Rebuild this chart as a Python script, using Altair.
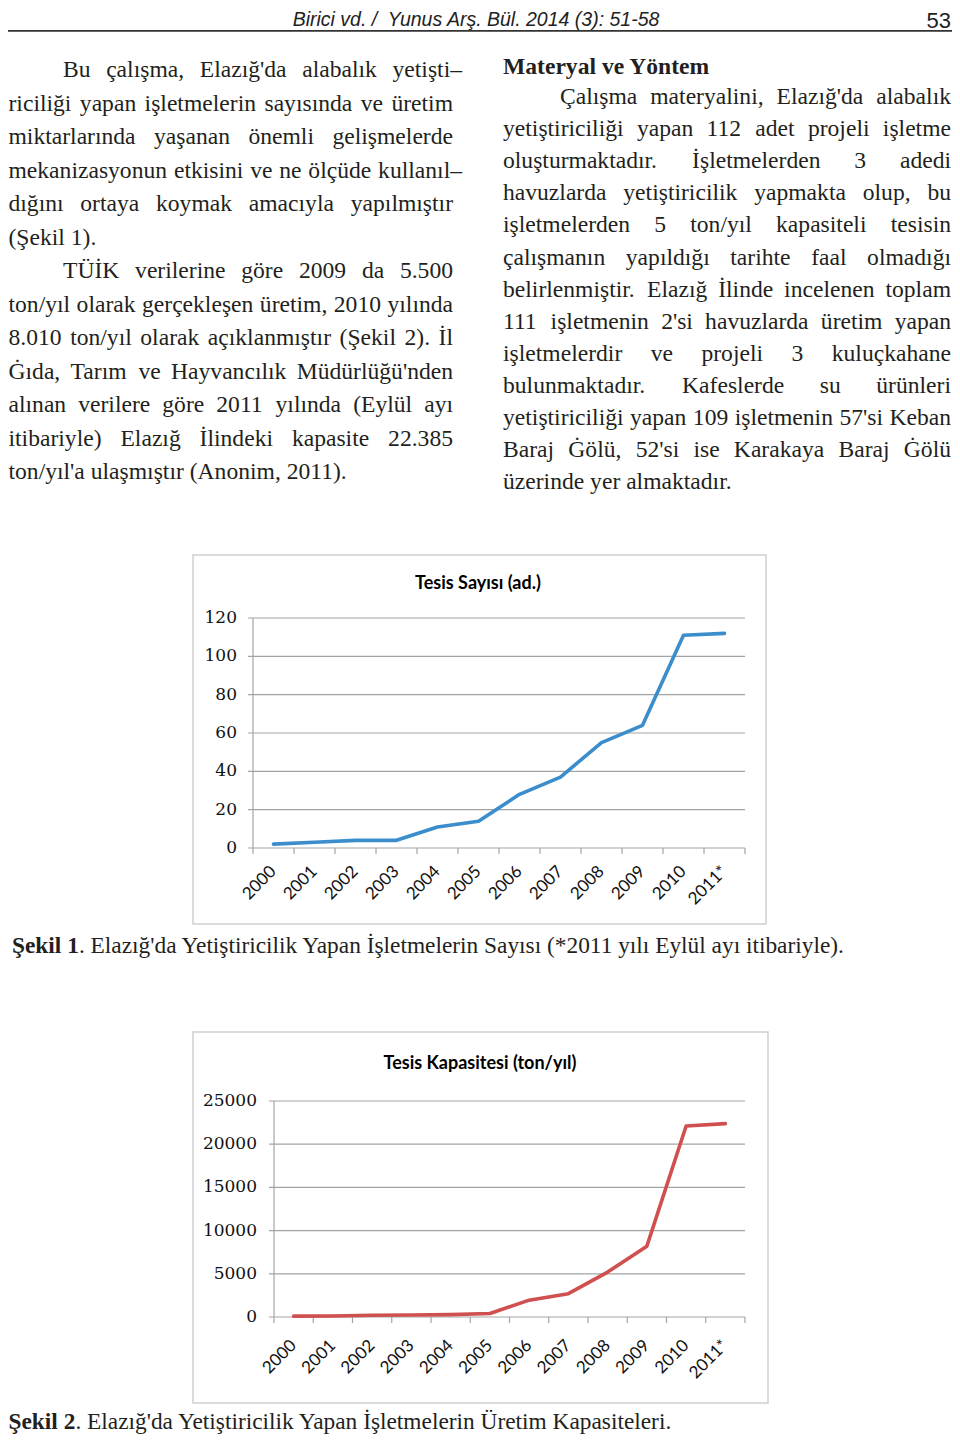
import altair as alt
import pandas as pd

# ---------------- data ----------------
years = ["2000", "2001", "2002", "2003", "2004", "2005", "2006", "2007", "2008", "2009", "2010", "2011*"]
facility_count = [2, 3, 4, 4, 11, 14, 28, 37, 55, 64, 111, 112]
facility_capacity = [100, 120, 200, 230, 270, 400, 1950, 2700, 5200, 8200, 22100, 22385]
count_ticks = [0, 20, 40, 60, 80, 100, 120]
capacity_ticks = [0, 5000, 10000, 15000, 20000, 25000]

header_text = "Birici vd. /\u00a0 Yunus Arş. Bül. 2014 (3): 51-58"
page_number = "53"

left_paragraphs = [
    ["Bu çalışma, Elazığ'da alabalık yetişti–",
     "riciliği yapan işletmelerin sayısında ve üretim",
     "miktarlarında yaşanan önemli gelişmelerde",
     "mekanizasyonun etkisini ve ne ölçüde kullanıl–",
     "dığını ortaya koymak amacıyla yapılmıştır",
     "(Şekil 1)."],
    ["TÜİK verilerine göre 2009 da 5.500",
     "ton/yıl olarak gerçekleşen üretim, 2010 yılında",
     "8.010 ton/yıl olarak açıklanmıştır (Şekil 2). İl",
     "Ġıda, Tarım ve Hayvancılık Müdürlüğü'nden",
     "alınan verilere göre 2011 yılında (Eylül ayı",
     "itibariyle) Elazığ İlindeki kapasite 22.385",
     "ton/yıl'a ulaşmıştır (Anonim, 2011)."],
]
right_heading = "Materyal ve Yöntem"
right_paragraphs = [
    ["Çalışma materyalini, Elazığ'da alabalık",
     "yetiştiriciliği yapan 112 adet projeli işletme",
     "oluşturmaktadır. İşletmelerden 3 adedi",
     "havuzlarda yetiştiricilik yapmakta olup, bu",
     "işletmelerden 5 ton/yıl kapasiteli tesisin",
     "çalışmanın yapıldığı tarihte faal olmadığı",
     "belirlenmiştir. Elazığ İlinde incelenen toplam",
     "111 işletmenin 2'si havuzlarda üretim yapan",
     "işletmelerdir ve projeli 3 kuluçkahane",
     "bulunmaktadır. Kafeslerde su ürünleri",
     "yetiştiriciliği yapan 109 işletmenin 57'si Keban",
     "Baraj Ġölü, 52'si ise Karakaya Baraj Ġölü",
     "üzerinde yer almaktadır."],
]
chart1_title = "Tesis Sayısı (ad.)"
chart2_title = "Tesis Kapasitesi (ton/yıl)"
caption1_label = "Şekil 1"
caption1_text = ". Elazığ'da Yetiştiricilik Yapan İşletmelerin Sayısı (*2011 yılı Eylül ayı itibariyle)."
caption2_label = "Şekil 2"
caption2_text = ". Elazığ'da Yetiştiricilik Yapan İşletmelerin Üretim Kapasiteleri."

# ---------------- layout helpers ----------------
OFF = 8  # page margin -> view origin
SERIF = "Liberation Serif"
TEXT_COLOR = "#231f20"

_reg = {' ': 250, '!': 333, '(': 333, ')': 333, '*': 500, ',': 250, '-': 333, '.': 250, '/': 278,
        ':': 278, "'": 180, '–': 500, '\u00a0': 250}
for d in "0123456789":
    _reg[d] = 500
_reg.update(dict(zip("ABCDEFGHIJKLMNOPQRSTUVWXYZ",
                     [722, 667, 667, 722, 611, 556, 722, 722, 333, 389, 722, 611, 889, 722, 722, 556, 722, 667, 556,
                      611, 722, 722, 944, 722, 722, 611])))
_reg.update(dict(zip("abcdefghijklmnopqrstuvwxyz",
                     [444, 500, 444, 500, 444, 333, 500, 500, 278, 278, 500, 278, 778, 500, 500, 500, 500, 333, 389,
                      278, 500, 500, 722, 500, 500, 444])))
_reg.update({'ç': 444, 'ğ': 500, 'ı': 278, 'ö': 500, 'ş': 389, 'ü': 500, 'Ç': 667, 'Ğ': 722, 'İ': 333,
             'Ö': 722, 'Ş': 556, 'Ü': 722, 'Ġ': 722})
_bold = {' ': 250, '1': 500, '2': 500, 'Ş': 556, 'e': 444, 'k': 556, 'i': 278, 'l': 278}


def em_reg(s):
    return sum(_reg.get(c, 500) for c in s) / 1000.0


def em_bold(s):
    return sum(_bold.get(c, 520) for c in s) / 1000.0


BODY_FS = 23.6


def layout(paras, x0, x1, indent, y0, lh, hang_x1):
    lrows, rrows = [], []
    i = 0
    for para in paras:
        for k, line in enumerate(para):
            y = y0 + i * lh - OFF
            lx = (indent if k == 0 else x0)
            rx = hang_x1 if line.endswith("–") else x1
            words = line.split(" ")
            if k == len(para) - 1 or len(words) == 1:
                lrows.append({"t": line, "x": lx - OFF, "y": y})
            else:
                ws = [em_reg(w) * BODY_FS for w in words]
                gap = (rx - lx - sum(ws)) / (len(words) - 1)
                cx = lx
                for w, wd in zip(words[:-1], ws[:-1]):
                    lrows.append({"t": w, "x": cx - OFF, "y": y})
                    cx += wd + gap
                rrows.append({"t": words[-1], "x": rx - OFF, "y": y})
            i += 1
    return lrows, rrows


l1, r1 = layout(left_paragraphs, 8.5, 453, 63, 77, 33.5, 462)
l2, r2 = layout(right_paragraphs, 503, 951, 560, 104, 32.1, 958)
left_words = pd.DataFrame(l1 + l2)
right_words = pd.DataFrame(r1 + r2)


def text_layer(df, align="left", font=SERIF, size=BODY_FS, weight="normal", style="normal", color=TEXT_COLOR,
               angle=0, baseline="alphabetic"):
    return alt.Chart(df).mark_text(align=align, baseline=baseline, font=font, fontSize=size, fontWeight=weight,
                                   fontStyle=style, color=color, angle=angle).encode(
        x=alt.X("x:Q", scale=None, axis=None),
        y=alt.Y("y:Q", scale=None, axis=None),
        text="t:N")


layers = []
layers.append(text_layer(left_words, "left"))
layers.append(text_layer(right_words, "right"))
layers.append(text_layer(pd.DataFrame([{"t": right_heading, "x": 503 - OFF, "y": 73.5 - OFF}]),
                         "left", weight="bold"))

# header
layers.append(text_layer(pd.DataFrame([{"t": header_text, "x": 476 - OFF, "y": 26 - OFF}]), "center",
                         font="Liberation Sans", size=19.5, style="italic", color="#222222"))
layers.append(text_layer(pd.DataFrame([{"t": page_number, "x": 951 - OFF, "y": 28 - OFF}]), "right",
                         font="Liberation Sans", size=22, color="#222222"))
one = pd.DataFrame({"a": [0]})
layers.append(alt.Chart(one).mark_rect(color="#333333").encode(
    x=alt.value(8 - OFF), x2=alt.value(952 - OFF), y=alt.value(30 - OFF), y2=alt.value(31.8 - OFF)))

# captions
for lab, txt, x0, x1, yb in [(caption1_label, caption1_text, 12, 852, 953),
                             (caption2_label, caption2_text, 8.5, 678, 1429)]:
    fs = (x1 - x0) / (em_bold(lab) + em_reg(txt))
    layers.append(text_layer(pd.DataFrame([{"t": lab, "x": x0 - OFF, "y": yb - OFF}]), "left", size=fs,
                             weight="bold"))
    layers.append(text_layer(pd.DataFrame([{"t": txt, "x": x0 + em_bold(lab) * fs - OFF, "y": yb - OFF}]),
                             "left", size=fs))


# ---------------- line panels ----------------
def panel(values, ticks, color, frame, axis_x, right_x, y_zero, y_top, title, title_xy, ylab_right, xlab_y):
    fx0, fy0, fx1, fy1 = frame
    xs = alt.Scale(type="point", domain=years, range=[axis_x - OFF, right_x - OFF], padding=0.5)
    ys = alt.Scale(domain=[ticks[0], ticks[-1]], range=[y_zero - OFF, y_top - OFF], nice=False, zero=False)
    step = (right_x - axis_x) / len(years)
    df = pd.DataFrame({"year": years, "v": values})
    tk = pd.DataFrame({"v": ticks})
    grid = "#a3a3a3"
    parts = []
    parts.append(alt.Chart(one).mark_rect(fill="white", stroke="#cfcfcf", strokeWidth=1.5).encode(
        x=alt.value(fx0 - OFF), x2=alt.value(fx1 - OFF), y=alt.value(fy0 - OFF), y2=alt.value(fy1 - OFF)))
    parts.append(alt.Chart(tk).mark_rule(color=grid, strokeWidth=1.2).encode(
        y=alt.Y("v:Q", scale=ys, axis=None), x=alt.value(axis_x - 5 - OFF), x2=alt.value(right_x - OFF)))
    parts.append(alt.Chart(one).mark_rule(color=grid, strokeWidth=1.2).encode(
        x=alt.value(axis_x - OFF), y=alt.value(y_top - OFF), y2=alt.value(y_zero - OFF)))
    parts.append(alt.Chart(df).mark_rule(color=grid, strokeWidth=1.2, xOffset=-step / 2).encode(
        x=alt.X("year:N", scale=xs, axis=None, sort=years), y=alt.value(y_zero - OFF),
        y2=alt.value(y_zero + 6 - OFF)))
    parts.append(alt.Chart(df.tail(1)).mark_rule(color=grid, strokeWidth=1.2, xOffset=step / 2).encode(
        x=alt.X("year:N", scale=xs, axis=None, sort=years), y=alt.value(y_zero - OFF),
        y2=alt.value(y_zero + 6 - OFF)))
    parts.append(alt.Chart(tk).mark_text(align="right", baseline="middle", font="DejaVu Serif", fontSize=17,
                                         color="#111111").encode(
        y=alt.Y("v:Q", scale=ys, axis=None), x=alt.value(ylab_right - OFF), text="v:Q"))
    parts.append(alt.Chart(df).mark_text(align="right", baseline="middle", font="Lato", fontSize=17,
                                         angle=315, color="#111111").encode(
        x=alt.X("year:N", scale=xs, axis=None, sort=years), y=alt.value(xlab_y - OFF), text="year:N"))
    parts.append(alt.Chart(df).mark_line(color=color, strokeWidth=3.6, strokeCap="round",
                                         strokeJoin="round").encode(
        x=alt.X("year:N", scale=xs, axis=None, sort=years), y=alt.Y("v:Q", scale=ys, axis=None)))
    parts.append(text_layer(pd.DataFrame([{"t": title, "x": title_xy[0] - OFF, "y": title_xy[1] - OFF}]),
                            "center", font="Lato", size=18, weight="bold", color="#000000"))
    return alt.layer(*parts)


chart1 = panel(facility_count, count_ticks, "#3b8dcb", (193, 555, 766, 924), 253, 745, 848, 618,
               chart1_title, (478, 589), 237, 869)
chart2 = panel(facility_capacity, capacity_ticks, "#d04f4f", (193, 1032, 768, 1403), 274, 745, 1317, 1101,
               chart2_title, (480, 1069), 257, 1343)

chart = alt.layer(*layers, chart1, chart2).resolve_scale(x="independent", y="independent").properties(
    width=944, height=1427, autosize=alt.AutoSizeParams(type="none"), padding=0, background="white"
).configure_view(stroke=None)

chart.save("out.html", embed_options={"renderer": "svg", "actions": False})
